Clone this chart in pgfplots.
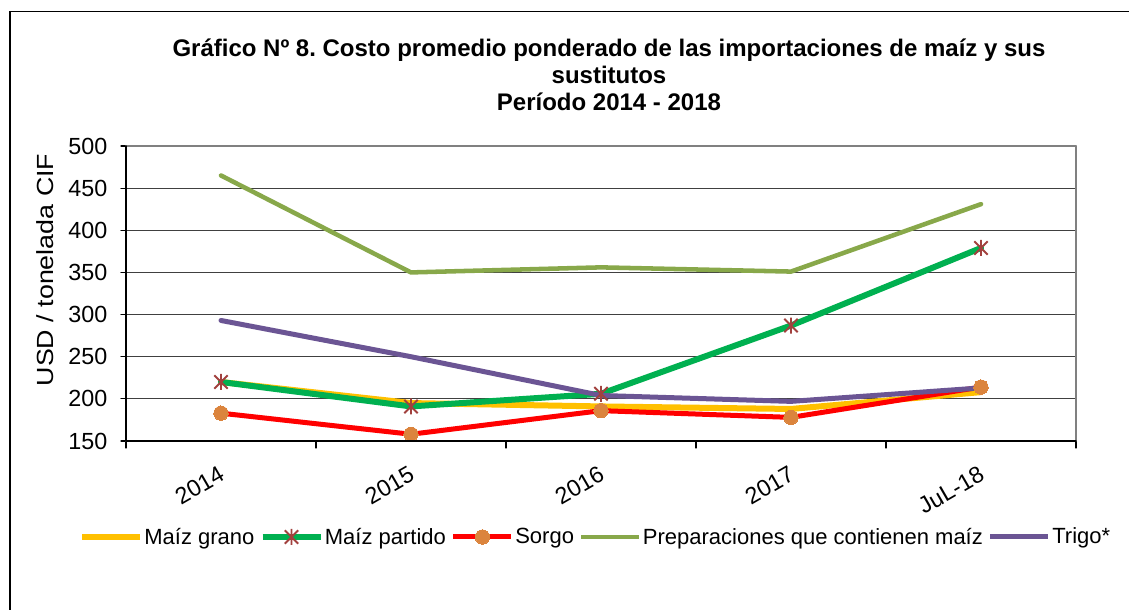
\documentclass[border=0pt]{standalone}
\usepackage{fontspec}
\setmainfont{Liberation Sans}
\newfontfamily\ylabfont{Liberation Sans}[FakeStretch=1.15]
\usepackage{pgfplots}
\pgfplotsset{compat=1.18}
\frenchspacing
\definecolor{cgrano}{HTML}{FFC000}
\definecolor{cpartido}{HTML}{00B050}
\definecolor{csorgo}{HTML}{FF0000}
\definecolor{csorgomk}{HTML}{DB843D}
\definecolor{cprep}{HTML}{88A84A}
\definecolor{ctrigo}{HTML}{6B5594}
\definecolor{cstar}{HTML}{A2413E}
\pgfdeclareplotmark{xstar}{%
  \pgfpathmoveto{\pgfqpoint{-\pgfplotmarksize}{-\pgfplotmarksize}}%
  \pgfpathlineto{\pgfqpoint{\pgfplotmarksize}{\pgfplotmarksize}}%
  \pgfpathmoveto{\pgfqpoint{-\pgfplotmarksize}{\pgfplotmarksize}}%
  \pgfpathlineto{\pgfqpoint{\pgfplotmarksize}{-\pgfplotmarksize}}%
  \pgfpathmoveto{\pgfqpoint{0pt}{-1.2\pgfplotmarksize}}%
  \pgfpathlineto{\pgfqpoint{0pt}{1.2\pgfplotmarksize}}%
  \pgfusepathqstroke}
\begin{document}
\begin{tikzpicture}
\path[use as bounding box] (0pt,0pt) rectangle (846.75pt,457.5pt);
\draw[black, line width=0.8pt] (7.5pt,0pt) -- (7.5pt,448.9pt) -- (846.75pt,448.9pt);
\node[anchor=base, font=\fontsize{18}{20}\selectfont\bfseries] at (456.75pt,415.1pt) {Gráfico Nº 8. Costo promedio ponderado de las importaciones de maíz y sus};
\node[anchor=base, font=\fontsize{18}{20}\selectfont\bfseries] at (456.75pt,394.9pt) {sustitutos};
\node[anchor=base, font=\fontsize{18}{20}\selectfont\bfseries] at (456.75pt,374.6pt) {Período 2014 - 2018};
\node[rotate=90, font=\fontsize{17.5}{20}\selectfont\ylabfont] at (34pt,255pt) {USD / tonelada CIF};
\begin{axis}[
  scale only axis,
  at={(94.5pt,126.75pt)}, anchor=south west,
  width=712.5pt, height=221.25pt,
  xmin=-0.5, xmax=4.5,
  ymin=150, ymax=500,
  ytick={150,200,...,500},
  xtick={0,1,2,3,4},
  xticklabels={2014,2015,2016,2017,JuL-18},
  minor xtick={-0.5,0.5,1.5,2.5,3.5,4.5},
  major x tick style={draw=none},
  minor tick length=5.25pt,
  major tick length=3.75pt,
  tick align=outside,
  xtick pos=bottom, ytick pos=left,
  tick style={black, line width=0.8pt},
  ymajorgrids,
  grid style={black!75, line width=0.75pt},
  axis line style={black!50, line width=1.4pt},
  /pgf/number format/assume math mode=true,
  yticklabel style={font=\fontsize{17.5}{20}\selectfont, anchor=east, inner sep=0pt, xshift=-10pt},
  xticklabel style={font=\fontsize{17.5}{20}\selectfont, rotate=30, anchor=north east, inner sep=0pt, yshift=-11pt, xshift=-9pt},
  legend columns=5,
  legend style={draw=none, fill=none, at={(0.494,-0.3254)}, anchor=center,
    font=\fontsize{16.5}{18}\selectfont,
    /tikz/every odd column/.append style={column sep=0pt},
    /tikz/every even column/.append style={column sep=2.8pt},
    nodes={inner sep=1pt}},
  legend image code/.code={\draw[mark repeat=2,mark phase=2,#1] plot coordinates {(0pt,0pt) (21.75pt,0pt) (43.5pt,0pt)};},
  line cap=round, line join=round,
  clip=false,
  after end axis/.code={
    \draw[black, line width=1.1pt] (rel axis cs:0,1) -- (rel axis cs:0,0) -- (rel axis cs:1,0);
  },
]
\addplot[cgrano, line width=4.5pt, mark=none] coordinates {(0,220) (1,195) (2,191) (3,188) (4,208)};
\addlegendentry{Maíz grano}
\addplot[cpartido, line width=4.5pt, mark=xstar, mark size=5pt, mark options={draw=cstar, line width=1.4pt, line cap=butt}] coordinates {(0,220) (1,191) (2,206) (3,287) (4,379)};
\addlegendentry{Maíz partido}
\addplot[csorgo, line width=3.75pt, mark=*, mark size=5.4pt, mark options={draw=csorgomk, fill=csorgomk, line width=0pt}] coordinates {(0,183) (1,158) (2,186) (3,178) (4,214)};
\addlegendentry{Sorgo}
\addplot[cprep, line width=3.4pt, mark=none] coordinates {(0,465) (1,350) (2,356) (3,351) (4,431)};
\addlegendentry{Preparaciones que contienen maíz}
\addplot[ctrigo, line width=3.75pt, mark=none] coordinates {(0,293) (1,250) (2,204) (3,197) (4,213)};
\addlegendentry{Trigo*}
\end{axis}
\end{tikzpicture}
\end{document}
